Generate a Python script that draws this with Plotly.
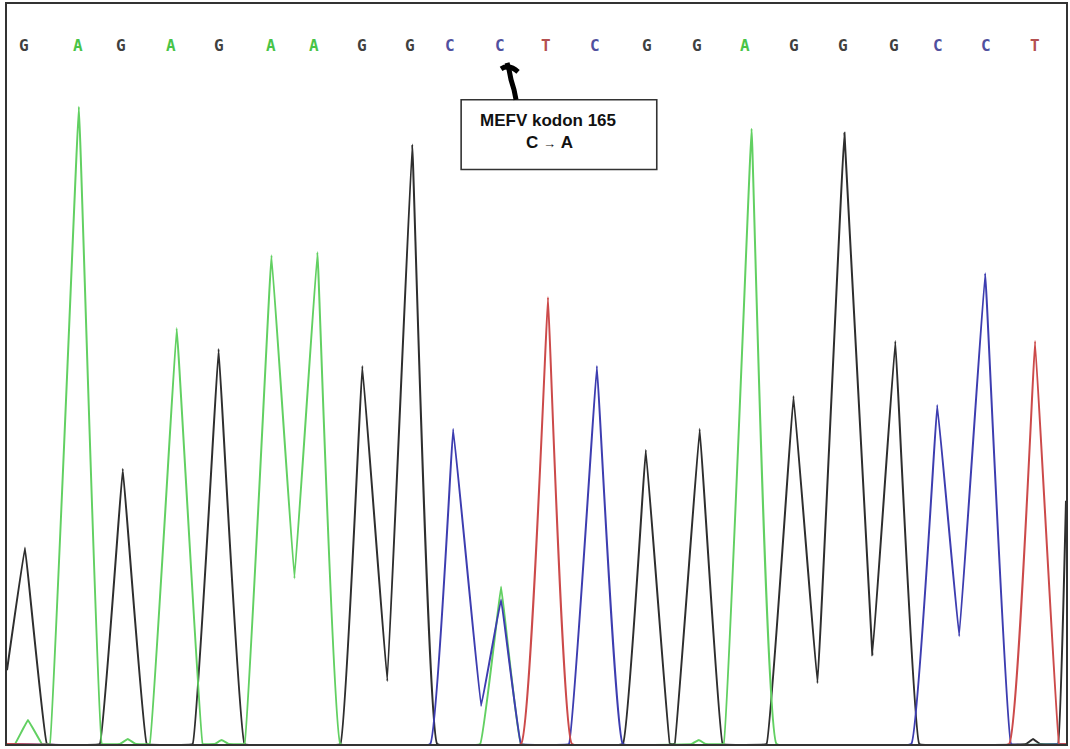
import plotly.graph_objects as go

# ---- Base calls (top sequence) ----
base_letters = ["G", "A", "G", "A", "G", "A", "A", "G", "G", "C", "C",
                "T", "C", "G", "G", "A", "G", "G", "G", "C", "C", "T"]
base_positions = [24, 78, 121, 171, 219, 271, 315, 363, 411, 451, 501,
                  547, 596, 648, 698, 746, 795, 845, 896, 940, 988, 1037]

# ---- Chromatogram channels (scan position, signal intensity) ----
g_scan = [7, 25, 47, 100, 123, 147, 193, 219, 245, 341, 363, 388, 413, 438,
          624, 647, 671, 676, 701, 724, 768, 795, 819, 846, 874, 897, 921,
          1028, 1035, 1042, 1060, 1068]
g_signal = [74, 197, 0, 0, 276, 0, 0, 396, 0, 0, 379, 63, 601, 0,
            0, 295, 0, 0, 316, 0, 0, 349, 61, 613, 89, 404, 0,
            0, 5, 0, 0, 244]

a_scan = [7, 15, 28, 42, 50, 79, 102, 120, 128, 136, 150, 177, 203, 215, 222,
          229, 245, 272, 295, 318, 341, 481, 502, 522, 693, 700, 707, 725,
          753, 778, 1068]
a_signal = [0, 0, 24, 0, 0, 639, 0, 0, 5, 0, 0, 417, 0, 0, 4,
            0, 0, 490, 166, 493, 0, 0, 158, 0, 0, 4, 0, 0,
            617, 0, 0]

c_scan = [7, 431, 454, 482, 502, 522, 570, 598, 624, 913, 939, 961, 987, 1013, 1068]
c_signal = [0, 0, 316, 38, 145, 0, 0, 379, 0, 0, 340, 108, 472, 0, 0]

t_scan = [7, 522, 549, 573, 1011, 1037, 1061, 1068]
t_signal = [0, 0, 448, 0, 0, 404, 0, 0]

channels = [
    ("G", g_scan, g_signal, "#2e2e2e"),
    ("A", a_scan, a_signal, "#62d062"),
    ("C", c_scan, c_signal, "#3d3db0"),
    ("T", t_scan, t_signal, "#cc4a4a"),
]
letter_colors = {"G": "#404040", "A": "#48c448", "C": "#50509e", "T": "#b45050"}

fig = go.Figure()
for name, xs, ys, col in channels:
    fig.add_trace(go.Scatter(
        x=xs, y=ys, mode="lines", name=name,
        line=dict(color=col, width=2, shape="spline", smoothing=0.12),
        hoverinfo="skip", showlegend=False,
    ))

H = 744  # axes are 1:1 with pixels; helper converts a pixel row to the y scale

def py(v):
    return H - v

annotations = []
for letter, xpos in zip(base_letters, base_positions):
    annotations.append(dict(
        x=xpos, y=py(44), xref="x", yref="y", text=f"<b>{letter}</b>", showarrow=False,
        font=dict(family="DejaVu Sans Mono", size=16, color=letter_colors[letter]),
        xanchor="center", yanchor="middle",
    ))

annotations.append(dict(
    x=549, y=py(119), xref="x", yref="y", text="<b>MEFV kodon 165</b>",
    showarrow=False, font=dict(family="Liberation Sans", size=17, color="#111"),
    xanchor="center", yanchor="middle",
))
annotations.append(dict(
    x=551, y=py(141), xref="x", yref="y",
    text="<b>C</b> <span style='font-size:13px'>\u2192</span> <b>A</b>",
    showarrow=False, font=dict(family="Liberation Sans", size=17, color="#111"),
    xanchor="center", yanchor="middle",
))

shapes = [
    dict(type="rect", xref="x", yref="y", x0=462, x1=658, y0=py(98), y1=py(168),
         line=dict(color="#333", width=1.6), fillcolor="white", layer="above"),
    dict(type="path", xref="x", yref="y",
         path=f"M 517,{py(98)} L 515,{py(88)} L 512,{py(78)} L 510,{py(68)} L 508,{py(61)}",
         line=dict(color="black", width=5), layer="above"),
    dict(type="path", xref="x", yref="y",
         path=f"M 502,{py(67)} Q 510,{py(62)} 519,{py(70)}",
         line=dict(color="black", width=5), layer="above"),
]

fig.update_layout(
    width=1070, height=749,
    margin=dict(l=7, r=2, t=2, b=5),
    paper_bgcolor="white", plot_bgcolor="white",
    annotations=annotations, shapes=shapes,
    xaxis=dict(range=[7, 1068], showgrid=False, zeroline=False, showticklabels=False,
               ticks="", showline=True, linecolor="#333", linewidth=2, mirror=True),
    yaxis=dict(range=[0, 742], showgrid=False, zeroline=False, showticklabels=False,
               ticks="", showline=True, linecolor="#333", linewidth=2, mirror=True),
)

fig.write_html("out.html", config={"displayModeBar": False},
               post_script="document.body.style.margin='0';document.body.style.overflow='hidden';")
